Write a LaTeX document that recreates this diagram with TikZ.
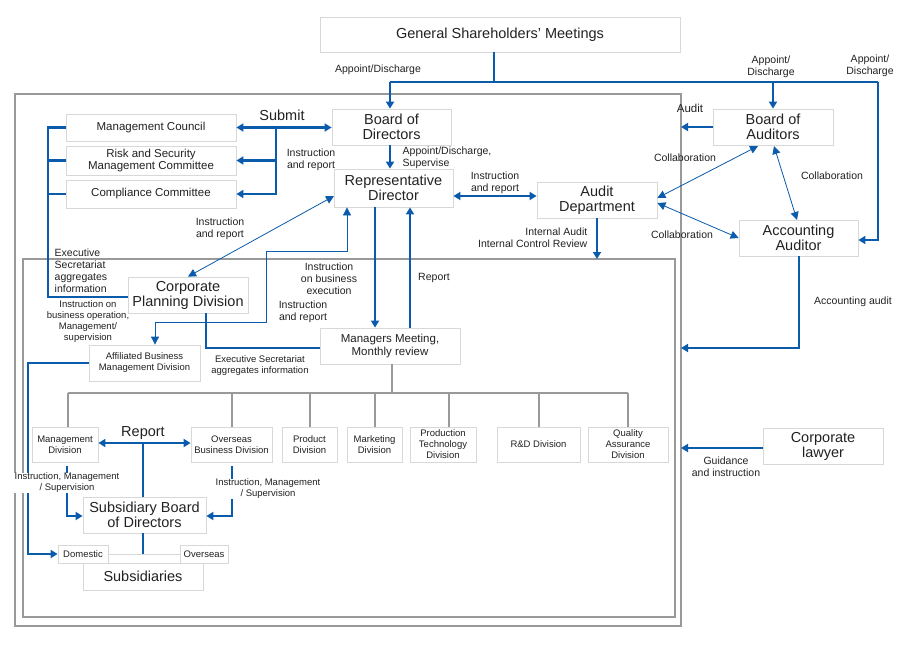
\documentclass[tikz,border=0pt]{standalone}
\usepackage{fontspec}
\setmainfont{Liberation Sans}
\usetikzlibrary{arrows.meta}
\definecolor{bl}{HTML}{0A5BAB}
\definecolor{gr}{HTML}{999999}
\definecolor{bx}{HTML}{D8D8D8}
\definecolor{tx}{HTML}{222222}
\begin{document}
\begin{tikzpicture}[x=1pt,y=-1pt,
  bx/.style={draw=bx,line width=0.8pt,fill=white,text=tx,align=center,inner sep=0pt},
  L/.style={font=\fontsize{14.5}{15}\selectfont},
  M/.style={font=\fontsize{11.5}{12.5}\selectfont},
  S/.style={font=\fontsize{10.5}{12}\selectfont},
  XS/.style={font=\fontsize{9.5}{11}\selectfont},
  lb/.style={text=tx,align=center,inner sep=0.5pt},
  th/.style={draw=bl,line width=2.6pt,-{Triangle[length=7pt,width=8pt]}},
  thn/.style={draw=bl,line width=2.6pt},
  tn/.style={draw=bl,line width=0.8pt,{Triangle[length=8pt,width=8pt]}-{Triangle[length=8pt,width=8pt]}},
  dbl/.style={draw=bl,line width=2.6pt,{Triangle[length=7pt,width=8pt]}-{Triangle[length=7pt,width=8pt]}},
  gl/.style={draw=gr,line width=2pt}]
\useasboundingbox (0,0) rectangle (910,656);
\fill[white] (0,0) rectangle (910,656);
\draw[gr,line width=2pt] (15,94) rectangle (681,626);
\draw[gr,line width=2pt] (23,259) rectangle (675,617);
% boxes
\node[bx,L,minimum width=360,minimum height=35] (gsm) at (500,34.5) {General Shareholders' Meetings};
\node[bx,M,minimum width=170,minimum height=27] (mc) at (151,127.5) {Management Council};
\node[bx,M,minimum width=170,minimum height=29] (rs) at (151,160.5) {Risk and Security\\Management Committee};
\node[bx,M,minimum width=170,minimum height=28] (cc) at (151,194) {Compliance Committee};
\node[bx,L,minimum width=119,minimum height=36] (bod) at (391.5,127) {Board of\\Directors};
\node[bx,L,minimum width=119,minimum height=38] (rd) at (393.5,188) {Representative\\Director};
\node[bx,L,minimum width=120,minimum height=36] (ad) at (597,200) {Audit\\Department};
\node[bx,L,minimum width=120,minimum height=36] (boa) at (773,127) {Board of\\Auditors};
\node[bx,L,minimum width=119,minimum height=36] (aa) at (798.5,238) {Accounting\\Auditor};
\node[bx,L,minimum width=120,minimum height=36] (cpd) at (188,295) {Corporate\\Planning Division};
\node[bx,XS,minimum width=111,minimum height=36] (abm) at (144.5,363) {Affiliated Business\\Management Division};
\node[bx,M,minimum width=140,minimum height=36] (mm) at (390,346) {Managers Meeting,\\Monthly review};
\node[bx,XS,minimum width=66,minimum height=35] (md) at (65,444.5) {Management\\Division};
\node[bx,XS,minimum width=81,minimum height=35] (ob) at (231.5,444.5) {Overseas\\Business Division};
\node[bx,XS,minimum width=55,minimum height=35] (pd) at (309.5,444.5) {Product\\Division};
\node[bx,XS,minimum width=55,minimum height=35] (mk) at (374.5,444.5) {Marketing\\Division};
\node[bx,XS,minimum width=66,minimum height=35] (pt) at (443,444.5) {Production\\Technology\\Division};
\node[bx,XS,minimum width=83,minimum height=35] (rnd) at (538.5,444.5) {R\&D Division};
\node[bx,XS,minimum width=80,minimum height=35] (qa) at (628,444.5) {Quality\\Assurance\\Division};
\node[bx,L,minimum width=120,minimum height=27] (sub) at (143,576.5) {Subsidiaries};
\draw[bx,line width=0.8pt] (108,554) -- (180,554);
\node[bx,L,minimum width=123,minimum height=36] (sbd) at (144.5,515) {Subsidiary Board\\of Directors};
\node[bx,XS,minimum width=50,minimum height=18] (dom) at (83,554) {Domestic};
\node[bx,XS,minimum width=48,minimum height=18] (ovs) at (204,554) {Overseas};
\node[bx,L,minimum width=120,minimum height=36] (cl) at (823,446) {Corporate\\lawyer};
% gray tree
\draw[gl] (mm.south-|392,0) -- (392,393);
\draw[gl] (68,393) -- (628,393);
\foreach \n/\x in {md/68,ob/232,pd/310,mk/375,pt/449,rnd/539,qa/628}
  \draw[gl] (\x,393) -- (\n.north-|\x,0);
% blue top
\draw[thn] (gsm.south-|494,0) -- (494,82);
\draw[thn] (390,82) -- (878,82);
\draw[th] (390,82) -- (bod.north-|390,0);
\draw[th] (773,82) -- (boa.north);
\draw[th] (878,82) -- (878,240) -- (aa.east|-0,240);
\draw[th] (bod.south-|390,0) -- (rd.north-|390,0);
% submit bus
\draw[dbl] (mc.east) -- (bod.west|-mc.east);
\draw[th] (276,127.5) -- (276,194) -- (cc.east);
\draw[th] (276,160.5) -- (rs.east);
% left bracket
\draw[thn] (mc.west) -- (48,127.5) -- (48,297) -- (cpd.west|-0,297);
\draw[thn] (rs.west) -- (48,160.5);
\draw[thn] (cc.west) -- (48,194);
% rd-ad
\draw[dbl] (rd.east|-0,196) -- (ad.west|-0,196);
\draw[th] (ad.south) -- (597,259);
\draw[th] (boa.west) -- (681,127);
% collaborations
\draw[tn] (ad.east|-0,198) -- (758,146);
\draw[tn] (ad.east|-0,203) -- (aa.west|-0,238);
\draw[tn] (774,146) -- (797,220);
\draw[th] (aa.south-|799,0) -- (799,348) -- (681,348);
% rd-cpd thin
\draw[tn] (cpd.north) -- (334,196);
\draw[tn] (abm.north-|155,0) -- (155,322) -- (266,322) -- (266,251) -- (347,251) -- (rd.south-|347,0);
% rd-mm
\draw[th] (rd.south-|375,0) -- (mm.north-|375,0);
\draw[th] (mm.north-|410,0) -- (rd.south-|410,0);
% cpd-mm
\draw[thn] (cpd.south-|206,0) -- (206,348) -- (mm.west|-0,348);
% abm - domestic
\draw[th] (abm.west) -- (28,363) -- (28,554) -- (dom.west);
% report
\draw[dbl] (md.east|-0,443) -- (ob.west|-0,443);
\draw[thn] (143,443) -- (sbd.north-|143,0);
\draw[th] (67,466) -- (67,516) -- (sbd.west|-0,516);
\draw[th] (232,466) -- (232,516) -- (sbd.east|-0,516);
\draw[thn] (sbd.south-|143,0) -- (143,554);
\draw[th] (cl.west|-0,448) -- (681,448);
% labels
\node[lb,S] at (378,70) {Appoint/Discharge};
\node[lb,S] at (771,67) {Appoint/\\Discharge};
\node[lb,S] at (870,66) {Appoint/\\Discharge};
\node[lb,L] at (282,115) {Submit};
\node[lb,S] at (311,160) {Instruction\\and report};
\node[lb,S,align=left,anchor=west] at (402,158) {Appoint/Discharge,\\Supervise};
\node[lb,S] at (495,183) {Instruction\\and report};
\node[lb,M] at (690,108) {Audit};
\node[lb,S] at (685,158) {Collaboration};
\node[lb,S] at (832,176) {Collaboration};
\node[lb,S] at (682,235) {Collaboration};
\node[lb,S,align=right,anchor=east] at (588,237.5) {Internal Audit\\Internal Control Review};
\node[lb,S] at (220,229) {Instruction\\and report};
\node[lb,S,align=left,anchor=west] at (54,271) {Executive\\Secretariat\\aggregates\\information};
\node[lb,S] at (329,279) {Instruction\\on business\\execution};
\node[lb,S] at (434,278) {Report};
\node[lb,S] at (303,312) {Instruction\\and report};
\node[lb,XS] at (88,322) {Instruction on\\business operation,\\Management/\\supervision};
\node[lb,XS] at (260,366) {Executive Secretariat\\aggregates information};
\node[lb,S] at (853,302) {Accounting audit};
\node[lb,L] at (143,433) {Report};
\node[lb,XS,fill=white] at (67,483) {Instruction, Management\\/ Supervision};
\node[lb,XS,fill=white] at (268,489) {Instruction, Management\\/ Supervision};
\node[lb,S] at (726,467) {Guidance\\and instruction};
\end{tikzpicture}
\end{document}
